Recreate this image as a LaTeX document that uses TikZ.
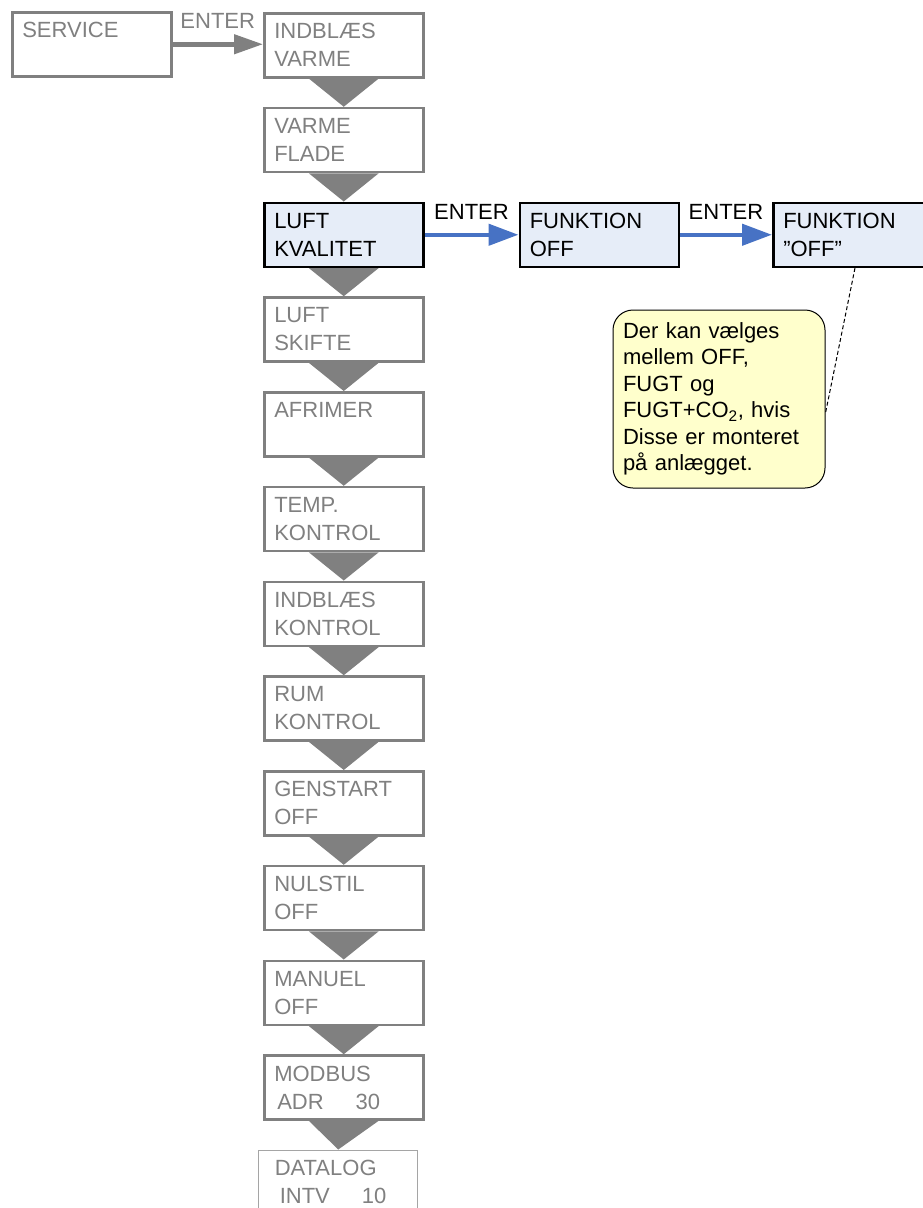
\documentclass[tikz,border=0pt]{standalone}
\usepackage{fontspec}
\setmainfont{Liberation Sans}
\usetikzlibrary{positioning}
\usetikzlibrary{arrows.meta}
\usetikzlibrary{calc}
\definecolor{boxgray}{RGB}{128,128,128}
\definecolor{thingray}{RGB}{165,165,165}
\definecolor{selfill}{RGB}{230,237,248}
\definecolor{arrowblue}{RGB}{71,114,196}
\definecolor{notefill}{RGB}{255,255,204}
\tikzset{
    menunode/.style = {rectangle, line width=2.5pt, draw=boxgray, fill=white, text=boxgray, minimum width=159pt, minimum height=64pt, text width=139pt, inner xsep=10pt, align=left},
    menunodeb/.style = {menunode, draw=black, fill=selfill, text=black},
    menunodel/.style = {menunode, line width=1pt, draw=thingray, text width=127pt, inner xsep=16pt},
    notenode/.style = {rectangle, rounded corners=20pt, line width=1pt, draw=black, fill=notefill, text=black, minimum width=212pt, minimum height=178pt, text width=192pt, inner xsep=10pt, align=left, font=\fontsize{22}{26.5}\selectfont},
    edgeg/.style = {-{Triangle[length=29pt,width=19pt]}, line width=4.5pt, boxgray},
    edgeb/.style = {-{Triangle[length=30pt,width=21pt]}, line width=4.5pt, arrowblue},
    edged/.style = {-, line width=1pt, black, dash pattern=on 4pt off 2.5pt}, % to note
    downtri/.style = {fill=boxgray}
}

\begin{document}
\begin{tikzpicture}[x=1pt, y=1pt, node distance=28.25pt, font=\fontsize{22}{28}\selectfont]
  \useasboundingbox (0,0) rectangle (922,-1208);
  \node[menunode, anchor=north west] (service) at (11,-11) {SERVICE\\\mbox{}};
  \node[menunode, anchor=north west] (indbvarme) at (263,-12) {INDBLÆS\\VARME};
  \node[menunode, below=of indbvarme] (varmeflade) {VARME\\FLADE};
  \node[menunodeb, below=of varmeflade] (luftkval) {LUFT\\KVALITET};
  \node[menunode, below=of luftkval] (luftskift) {LUFT\\SKIFTE};
  \node[menunode, below=of luftskift] (afrimer) {AFRIMER\\\mbox{}};
  \node[menunode, below=of afrimer] (tempkontrol) {TEMP.\\KONTROL};
  \node[menunode, below=of tempkontrol] (indbkontrol) {INDBLÆS\\KONTROL};
  \node[menunode, below=of indbkontrol] (rumkontrol) {RUM\\KONTROL};
  \node[menunode, below=of rumkontrol] (genstart) {GENSTART\\OFF};
  \node[menunode, below=of genstart] (nulstil) {NULSTIL\\OFF};
  \node[menunode, below=of nulstil] (manuel) {MANUEL\\OFF};
  \node[menunode, below=of manuel] (modbus) {MODBUS\\\hspace*{3pt}ADR\hspace{32pt}30};
  \node[menunodel, below=28.75pt of modbus, xshift=-5.5pt] (datalog) {DATALOG\\\hspace*{5pt}INTV\hspace{32pt}10};

  \node[menunodeb, right=94pt of luftkval] (funkoff) {FUNKTION\\OFF};
  \node[menunodeb, right=92pt of funkoff] (funkvalg) {FUNKTION\\”OFF”};
  \node[notenode, anchor=north west] (note) at (612.5,-309.5) {Der kan vælges\\mellem OFF,\\FUGT og\\FUGT+CO\textsubscript{2}, hvis\\Disse er monteret\\på anlægget.};

  \foreach \a/\b in {indbvarme/varmeflade, varmeflade/luftkval, luftkval/luftskift, luftskift/afrimer, afrimer/tempkontrol, tempkontrol/indbkontrol, indbkontrol/rumkontrol, rumkontrol/genstart, genstart/nulstil, nulstil/manuel, manuel/modbus, modbus/datalog}
    \fill[downtri] ($(\a.south)+(-35,0)$) -- ($(\a.south)+(35,0)$) -- (\b.north) -- cycle;

  \draw[edgeg] (service.east) -- node[above=10pt, text=boxgray] (enter0) {ENTER} (service.east -| indbvarme.west);
  \draw[edgeb] (luftkval.east) -- node[above=10pt, text=black] (enter1) {ENTER} (funkoff.west);
  \draw[edgeb] (funkoff.east) -- node[above=10pt, text=black] (enter2) {ENTER} (funkvalg.west);
  \draw[edged] ($(funkvalg.south west)+(83,0)$) -- ($(note.east)+(0,-14)$);
\end{tikzpicture}
\end{document}
